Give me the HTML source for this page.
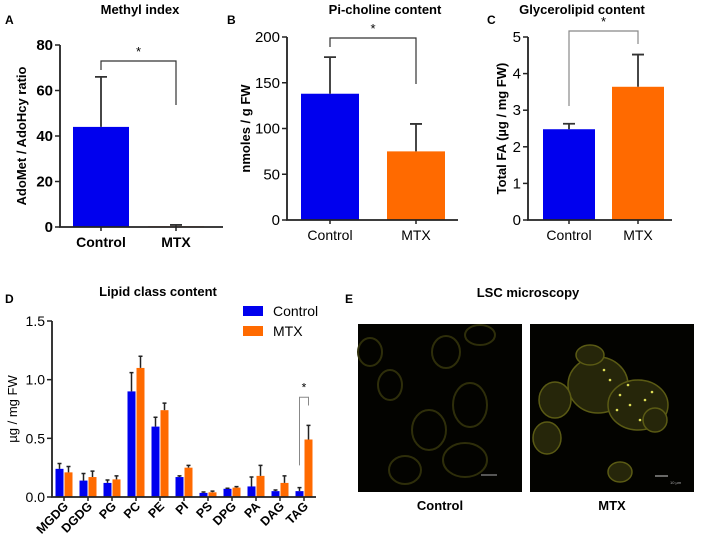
<!DOCTYPE html>
<html><head><meta charset="utf-8"><style>
body{margin:0;background:#fff;}
svg{display:block;font-family:"Liberation Sans",Arial,sans-serif;}
.b{font-weight:bold}
</style></head><body>
<svg width="708" height="554" viewBox="0 0 708 554" id="fig">
<rect width="708" height="554" fill="#fff"/>
<g id="gA"></g>
<g id="gB"></g>
<g id="gC"></g>
<g id="gD"></g>
<g id="gE">
  <text x="345" y="303" font-size="12" class="b">E</text>
  <text x="528" y="297" font-size="13" class="b" text-anchor="middle">LSC microscopy</text>
  <rect x="358" y="324" width="164" height="168" fill="#030300"/>
  <g fill="none" stroke="#2e2e0a" stroke-width="2">
    <ellipse cx="390" cy="385" rx="12" ry="15"/><ellipse cx="429" cy="430" rx="17" ry="20"/>
    <ellipse cx="470" cy="405" rx="17" ry="22"/><ellipse cx="446" cy="352" rx="14" ry="16"/>
    <ellipse cx="405" cy="470" rx="16" ry="14"/><ellipse cx="465" cy="460" rx="22" ry="17"/>
    <ellipse cx="370" cy="352" rx="12" ry="14"/><ellipse cx="480" cy="335" rx="15" ry="10"/>
  </g>
  <line x1="481" y1="475" x2="497" y2="475" stroke="#aaa" stroke-width="1"/>
  <rect x="530" y="324" width="164" height="168" fill="#030300"/>
  <g fill="#26260a" stroke="#5a5a14" stroke-width="1.5">
    <ellipse cx="598" cy="385" rx="30" ry="28"/><ellipse cx="638" cy="405" rx="30" ry="25"/>
    <ellipse cx="555" cy="400" rx="16" ry="18"/><ellipse cx="547" cy="438" rx="14" ry="16"/>
    <ellipse cx="590" cy="355" rx="14" ry="10"/><ellipse cx="620" cy="472" rx="12" ry="10"/>
    <ellipse cx="655" cy="420" rx="12" ry="12"/>
  </g>
  <g fill="#dddd55">
    <circle cx="610" cy="380" r="1.3"/><circle cx="620" cy="395" r="1.3"/><circle cx="630" cy="405" r="1.3"/>
    <circle cx="640" cy="420" r="1.3"/><circle cx="604" cy="370" r="1.3"/><circle cx="628" cy="385" r="1.3"/>
    <circle cx="645" cy="400" r="1.3"/><circle cx="652" cy="392" r="1.3"/><circle cx="617" cy="410" r="1.3"/>
  </g>
  <line x1="655" y1="476" x2="668" y2="476" stroke="#ccc" stroke-width="1"/>
  <text x="670" y="484" font-size="4" fill="#aaa">10 µm</text>
  <text x="440" y="510" font-size="13" class="b" text-anchor="middle">Control</text>
  <text x="612" y="510" font-size="13" class="b" text-anchor="middle">MTX</text>
</g>
</svg>
<script>
const NS="http://www.w3.org/2000/svg";
const BLUE="#0000ee",ORANGE="#ff6a00";
// Panel A data
const aCats=["Control","MTX"];
const aVals=[44,0.3];
const aErr=[22,0.6];
const aTicks=[0,20,40,60,80];
// Panel B data
const bCats=["Control","MTX"];
const bVals=[138,75];
const bErr=[40,30];
const bTicks=[0,50,100,150,200];
// Panel C data
const cCats=["Control","MTX"];
const cVals=[2.48,3.64];
const cErr=[0.15,0.88];
const cTicks=[0,1,2,3,4,5];
// Panel D data
const dCats=["MGDG","DGDG","PG","PC","PE","PI","PS","DPG","PA","DAG","TAG"];
const dCtrl=[0.24,0.14,0.12,0.90,0.60,0.17,0.035,0.07,0.09,0.05,0.05];
const dCtrlErr=[0.045,0.06,0.025,0.16,0.08,0.01,0.008,0.005,0.08,0.01,0.03];
const dMtx=[0.21,0.17,0.15,1.10,0.74,0.25,0.04,0.08,0.18,0.12,0.49];
const dMtxErr=[0.05,0.05,0.03,0.10,0.06,0.02,0.01,0.008,0.09,0.06,0.12];
const dTicks=[0,0.5,1.0,1.5];
const dTickLabels=["0.0","0.5","1.0","1.5"];

function el(p,tag,attrs,txt){const e=document.createElementNS(NS,tag);for(const k in attrs)e.setAttribute(k,attrs[k]);if(txt!==undefined)e.textContent=txt;p.appendChild(e);return e;}

function simple(g,o){
  const y=v=>o.y0-(v/o.max)*(o.y0-o.yTop);
  el(g,"text",{x:o.letterX,y:24,"font-size":12,"font-weight":"bold"},o.letter);
  el(g,"text",{x:o.titleX,y:14,"font-size":13,"font-weight":"bold","text-anchor":"middle"},o.title);
  for(let i=0;i<o.cats.length;i++){
    const cx=o.cx[i],w=o.w;
    const r=el(g,"rect",{x:cx-w/2,y:y(o.vals[i]),width:w,height:o.y0-y(o.vals[i]),fill:i?ORANGE:BLUE});
    
    
    const e=el(g,"path",{d:`M${cx} ${y(o.vals[i])}V${y(o.vals[i]+o.err[i])}M${cx-6} ${y(o.vals[i]+o.err[i])}H${cx+6}`,stroke:"#333","stroke-width":1.8,fill:"none"});
    
    
    const t=el(g,"text",{x:cx,y:o.y0+20,"font-size":14,"font-weight":o.boldX?"bold":"normal","text-anchor":"middle"},o.cats[i]);
    
    
    el(g,"line",{x1:cx,y1:o.y0,x2:cx,y2:o.y0+4,stroke:"#222","stroke-width":1.5});
  }
  el(g,"path",{d:`M${o.ax} ${o.yTop}V${o.y0}H${o.axEnd}`,stroke:"#222","stroke-width":1.8,fill:"none"});
  o.ticks.forEach(v=>{
    el(g,"line",{x1:o.ax-5,y1:y(v),x2:o.ax,y2:y(v),stroke:"#222","stroke-width":1.5});
    const t=el(g,"text",{x:o.ax-7,y:y(v)+5,"font-size":15,"font-weight":o.boldY?"bold":"normal","text-anchor":"end"},v);
    
    
  });
  const yt=el(g,"text",{transform:`translate(${o.ylx},${(o.y0+o.yTop)/2}) rotate(-90)`,"font-size":13,"font-weight":"bold","text-anchor":"middle"},o.ylabel);
  
  
  const s=o.sig;
  el(g,"path",{d:`M${o.cx[0]} ${s[1]}V${s[0]}H${o.cx[1]}V${s[2]}`,stroke:o.sigCol,"stroke-width":1.2,fill:"none"});
  el(g,"text",{x:(o.cx[0]+o.cx[1])/2,y:s[0]-5,"font-size":13,"text-anchor":"middle"},"*");
}
simple(document.getElementById("gA"),{letter:"A",letterX:5,title:"Methyl index",titleX:140,cats:aCats,vals:aVals,err:aErr,ticks:aTicks,max:80,y0:227,yTop:45,ax:60,axEnd:223,cx:[101,176],w:56,ylabel:"AdoMet / AdoHcy ratio",ylx:26,sig:[61,70,105],sigCol:"#333",boldX:true,boldY:true});
simple(document.getElementById("gB"),{letter:"B",letterX:227,title:"Pi-choline content",titleX:385,cats:bCats,vals:bVals,err:bErr,ticks:bTicks,max:200,y0:220,yTop:37,ax:287,axEnd:458,cx:[330,416],w:58,ylabel:"nmoles / g FW",ylx:250,sig:[38,47,84],sigCol:"#333",boldX:false,boldY:false});
simple(document.getElementById("gC"),{letter:"C",letterX:487,title:"Glycerolipid content",titleX:582,cats:cCats,vals:cVals,err:cErr,ticks:cTicks,max:5,y0:220,yTop:37,ax:528,axEnd:672,cx:[569,638],w:52,ylabel:"Total FA (µg / mg FW)",ylx:506,sig:[31,106,44],sigCol:"#888",boldX:false,boldY:false});

// Panel D
(function(){
  const g=document.getElementById("gD");
  const y0=497,yTop=321,max=1.5;
  const y=v=>y0-(v/max)*(y0-yTop);
  const x=i=>64+i*24;
  el(g,"text",{x:5,y:303,"font-size":12,"font-weight":"bold"},"D");
  el(g,"text",{x:158,y:296,"font-size":13,"font-weight":"bold","text-anchor":"middle"},"Lipid class content");
  dCats.forEach((c,i)=>{
    [[dCtrl,dCtrlErr,BLUE,-4.5],[dMtx,dMtxErr,ORANGE,4.5]].forEach(([v,e,col,off])=>{
      const cx=x(i)+off;
      const r=el(g,"rect",{x:cx-4,y:y(v[i]),width:8,height:y0-y(v[i]),fill:col});
      
      
      el(g,"path",{d:`M${cx} ${y(v[i])}V${y(v[i]+e[i])}M${cx-2} ${y(v[i]+e[i])}H${cx+2}`,stroke:"#222","stroke-width":1.5,fill:"none"});
    });
    el(g,"line",{x1:x(i),y1:y0,x2:x(i),y2:y0+4,stroke:"#222","stroke-width":1.5});
    const t=el(g,"text",{transform:`translate(${x(i)+5},${y0+10}) rotate(-45)`,"font-size":12.5,"font-weight":"bold","text-anchor":"end"},c);
    
    
  });
  el(g,"path",{d:`M52 ${yTop}V${y0}H316`,stroke:"#222","stroke-width":1.8,fill:"none"});
  dTicks.forEach((v,k)=>{
    el(g,"line",{x1:47,y1:y(v),x2:52,y2:y(v),stroke:"#222","stroke-width":1.5});
    const t=el(g,"text",{x:45,y:y(v)+5,"font-size":14,"text-anchor":"end"},dTickLabels[k]);
    
    
  });
  const yt=el(g,"text",{transform:`translate(17,${(y0+yTop)/2}) rotate(-90)`,"font-size":13,"text-anchor":"middle"},"µg / mg FW");
  
  
  const tx=x(10);
  el(g,"path",{d:`M${tx-4.5} ${y(0.27)}V${y(0.85)}H${tx+4.5}V${y(0.78)}`,stroke:"#888","stroke-width":1,fill:"none"});
  el(g,"text",{x:tx,y:y(0.9),"font-size":12,"text-anchor":"middle"},"*");
  const l1=el(g,"rect",{x:243,y:306,width:20,height:10,fill:BLUE});
  
  
  el(g,"text",{x:273,y:316,"font-size":14},"Control");
  const l2=el(g,"rect",{x:243,y:326,width:20,height:10,fill:ORANGE});
  
  
  el(g,"text",{x:273,y:336,"font-size":14},"MTX");
})();
</script>
</body></html>
